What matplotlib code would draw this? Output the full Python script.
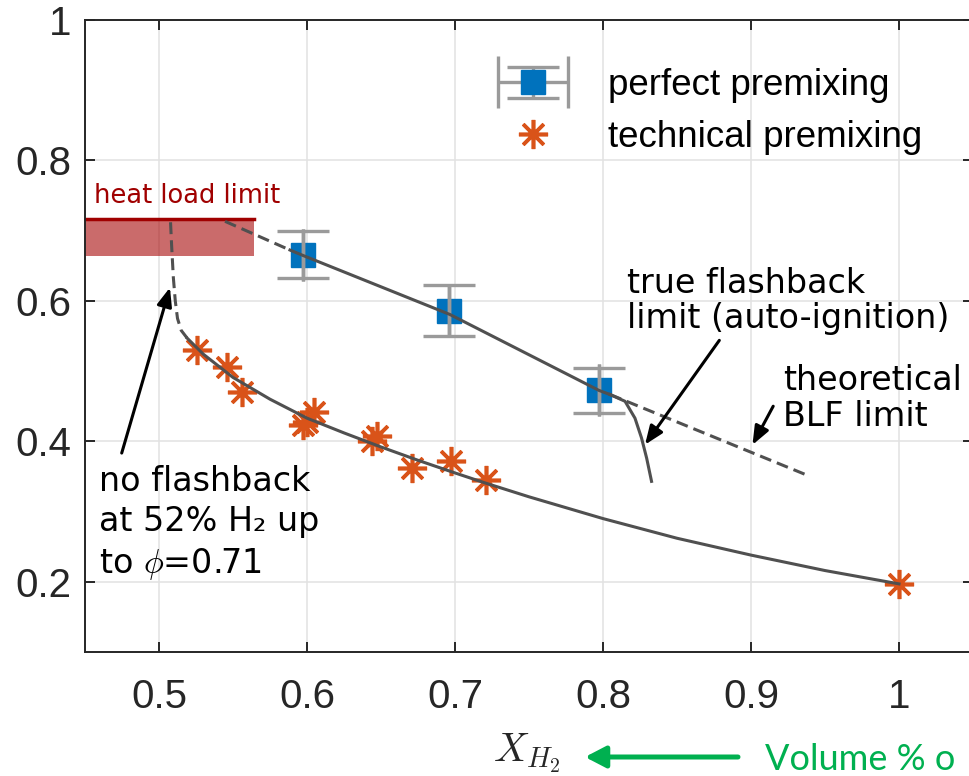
import numpy as np
import matplotlib
matplotlib.use("Agg")
import matplotlib.pyplot as plt
from matplotlib.container import ErrorbarContainer
from matplotlib.legend_handler import HandlerErrorbar

plt.rcParams['font.family'] = ['Liberation Sans', 'DejaVu Sans']
plt.rcParams['mathtext.fontset'] = 'cm'

# measured points
perf_x = [0.5975, 0.6962, 0.7973]
perf_y = [0.666, 0.586, 0.473]
perf_err = [0.0335, 0.036, 0.032]

tech_x = [0.526, 0.546, 0.556, 0.597, 0.600, 0.605, 0.644, 0.647, 0.671, 0.697, 0.721, 1.0]
tech_y = [0.530, 0.506, 0.470, 0.423, 0.428, 0.442, 0.400, 0.407, 0.362, 0.372, 0.345, 0.197]

# fitted curve through technical premixing (dashed part + solid part)
low_dash_x = [0.5078, 0.5085, 0.5097, 0.511, 0.5125, 0.515, 0.519]
low_dash_y = [0.712, 0.68, 0.633, 0.600, 0.575, 0.558, 0.547]
low_x = [0.519, 0.53, 0.55, 0.575, 0.6, 0.625, 0.65, 0.675, 0.7, 0.72, 0.75, 0.8, 0.85, 0.9, 0.95, 1.0]
low_y = [0.547, 0.524, 0.491, 0.460, 0.433, 0.412, 0.392, 0.373, 0.355, 0.341, 0.321, 0.290, 0.262, 0.238, 0.216, 0.197]

# fitted line through perfect premixing
up_dash_x = [0.5446, 0.5885]
up_dash_y = [0.7133, 0.6724]
up_x = [0.5885, 0.5975, 0.6966, 0.7973, 0.8047]
up_y = [0.6724, 0.6645, 0.5806, 0.4725, 0.4667]

# theoretical BLF limit and auto-ignition limit
blf_x = [0.8047, 0.9365]
blf_y = [0.4667, 0.353]
auto_x = [0.8047, 0.8149, 0.8216, 0.826, 0.8295, 0.8328]
auto_y = [0.4667, 0.457, 0.433, 0.405, 0.376, 0.343]

# heat load limit band
heat_x = [0.45, 0.5644]
heat_lo = 0.6633
heat_hi = 0.7167

xticks = [0.5, 0.6, 0.7, 0.8, 0.9, 1.0]
xticklabels = ['0.5', '0.6', '0.7', '0.8', '0.9', '1']
yticks = [0.2, 0.4, 0.6, 0.8, 1.0]
yticklabels = ['0.2', '0.4', '0.6', '0.8', '1']

blue = '#0072BD'
orange = '#D95319'
gray_line = '#505050'
darkred = '#A00000'
green = '#00B050'

fig = plt.figure(figsize=(9.7, 7.76), dpi=100)
ax = fig.add_axes([85/970, 124/776, 888/970, 632/776])
ax.set_xlim(0.45, 1.05)
ax.set_ylim(0.1, 1.0)

ax.set_xticks(xticks)
ax.set_xticklabels(xticklabels)
ax.set_yticks(yticks)
ax.set_yticklabels(yticklabels)
ax.grid(True, color='#E2E2E2', lw=1.1)
ax.set_axisbelow(True)
for s in ax.spines.values():
    s.set_color('#262626')
    s.set_linewidth(1.4)
ax.tick_params(direction='in', length=7, width=1.4, colors='#262626',
               labelsize=29, top=True, right=True)
ax.tick_params(axis='x', pad=19)
ax.tick_params(axis='y', pad=10)

# heat load limit
ax.fill_between(heat_x, heat_lo, heat_hi, color='#A50000', alpha=0.58, lw=0, zorder=1)
ax.plot(heat_x, [heat_hi, heat_hi], color=darkred, lw=2.5, zorder=2)
ax.text(0.4561, 0.74, 'heat load limit', color=darkred, fontsize=18.5,
        family='DejaVu Sans', va='baseline')

# data
eb = ax.errorbar(perf_x, perf_y, yerr=perf_err, xerr=[0, 0, 0], fmt='s', color=blue,
                 ms=17, mec=blue, ecolor='#9A9A9A', elinewidth=2.4, capsize=18.5,
                 capthick=2.4, barsabove=True, zorder=3)
tp, = ax.plot(tech_x, tech_y, ls='none', marker=(8, 2, 0), ms=21, mew=2.6, color=orange,
              zorder=3)

# curves
dash = (0, (3.9, 2.0))
ax.plot(low_dash_x, low_dash_y, color=gray_line, lw=2.2, ls=dash, zorder=4)
ax.plot(low_x, low_y, color=gray_line, lw=2.2, zorder=4)
ax.plot(up_dash_x, up_dash_y, color=gray_line, lw=2.2, ls=dash, zorder=4)
ax.plot(up_x, up_y, color=gray_line, lw=2.2, zorder=4)
ax.plot(blf_x, blf_y, color=gray_line, lw=2.2, ls=dash, zorder=4)
ax.plot(auto_x, auto_y, color=gray_line, lw=2.2, zorder=4)

# annotations (y = baseline of the last line)
astyle = dict(arrowstyle='-|>,head_length=0.45,head_width=0.18', color='k', lw=2.2,
              mutation_scale=25, shrinkA=0, shrinkB=0)
ax.text(0.4595, 0.2119, 'no flashback\nat 52% H\u2082 up\nto $\\phi$=0.71', fontsize=24,
        family='DejaVu Sans', va='baseline', linespacing=1.3, zorder=5)
ax.annotate('', xy=(0.5074, 0.619), xytext=(0.4748, 0.3833), arrowprops=astyle, zorder=5)

ax.text(0.816, 0.5619, 'true flashback\nlimit (auto-ignition)', fontsize=24,
        family='DejaVu Sans', va='baseline', linespacing=1.08, zorder=5)
ax.annotate('', xy=(0.8284, 0.3953), xytext=(0.8786, 0.5438), arrowprops=astyle, zorder=5)

ax.text(0.9218, 0.4214, 'theoretical\nBLF limit', fontsize=24,
        family='DejaVu Sans', va='baseline', linespacing=1.12, zorder=5)
ax.annotate('', xy=(0.901, 0.395), xytext=(0.915, 0.45), arrowprops=astyle, zorder=5)

# legend
leg = ax.legend([eb, tp], ['perfect premixing', 'technical premixing'],
                loc='upper left', bbox_to_anchor=(0.465, 0.924), frameon=False,
                fontsize=26.5, borderpad=0, borderaxespad=0, handlelength=1.9,
                handletextpad=1.1, labelspacing=0.46,
                handler_map={ErrorbarContainer: HandlerErrorbar(xerr_size=0.95, yerr_size=0.42)})

# x label and note
ax.set_xlabel('$X_{H_2}$', fontsize=29, color='#262626')
ax.xaxis.set_label_coords(0.4977, -0.125)
ax.annotate('', xy=(585, 19), xytext=(738, 19), xycoords='figure pixels',
            arrowprops=dict(arrowstyle='-|>,head_length=0.5,head_width=0.26', color=green,
                            lw=3.6, mutation_scale=25, shrinkA=0, shrinkB=0))
fig.text(765/970, 6/776, 'Volume % o', color=green, fontsize=26, family='Lato',
         va='baseline')

fig.savefig('out.png', dpi=100)
